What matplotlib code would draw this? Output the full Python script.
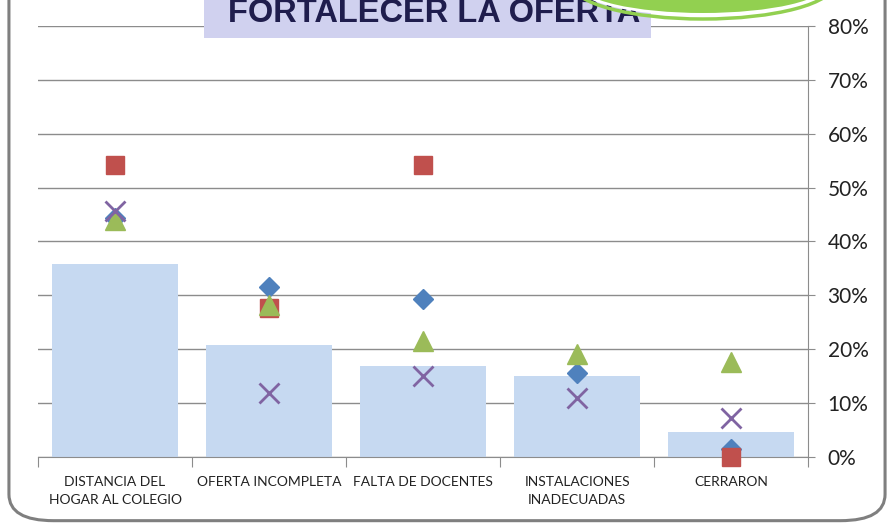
import numpy as np
import matplotlib.pyplot as plt
from matplotlib.patches import FancyBboxPatch, Rectangle, Ellipse

# Datos
categorias = ["DISTANCIA DEL\nHOGAR AL COLEGIO", "OFERTA INCOMPLETA", "FALTA DE DOCENTES",
              "INSTALACIONES\nINADECUADAS", "CERRARON"]
barras = [35.8, 20.7, 16.8, 15.1, 4.7]
serie_rombo = [44.3, 31.6, 29.3, 15.6, 1.4]
serie_cuadro = [54.2, 27.6, 54.2, np.nan, 0.0]
serie_triangulo = [44.0, 28.2, 21.5, 19.2, 17.6]
serie_x = [45.6, 11.9, 15.1, 11.0, 7.2]
ticks_y = [0, 10, 20, 30, 40, 50, 60, 70, 80]

plt.rcParams['font.family'] = ['Lato', 'DejaVu Sans']
fig = plt.figure(figsize=(8.94, 5.27), dpi=100)

# Marco redondeado
marco = FancyBboxPatch((0.010, 0.012), 0.980, 1.05, boxstyle="round,pad=0,rounding_size=0.05",
                       transform=fig.transFigure, facecolor="white", edgecolor="#7f7f7f",
                       linewidth=2.2, zorder=0)
fig.patches.append(marco)

ax = fig.add_axes([0.0425, 0.1328, 0.8615, 0.8179])
ax.set_zorder(2)
ax.patch.set_alpha(0)
x = np.arange(len(categorias))

ax.bar(x, barras, width=0.82, color="#C6D9F1", zorder=2)
ax.plot(x, serie_rombo, linestyle="none", marker="D", markersize=10.5, color="#4F81BD",
        zorder=3, clip_on=False)
ax.plot(x, serie_cuadro, linestyle="none", marker="s", markersize=13, color="#C0504D",
        zorder=4, clip_on=False)
ax.plot(x, serie_triangulo, linestyle="none", marker="^", markersize=15, color="#9BBB59",
        zorder=5, clip_on=False)
ax.plot(x, serie_x, linestyle="none", marker="x", markersize=14, markeredgewidth=2,
        color="#8064A2", zorder=6, clip_on=False)

ax.set_xlim(-0.5, len(categorias) - 0.5)
ax.set_ylim(0, 80)
ax.yaxis.tick_right()
ax.set_yticks(ticks_y)
ax.set_yticklabels([f"{t}%" for t in ticks_y], fontsize=15, color="#222222")
ax.yaxis.grid(True, color="#8c8c8c", linewidth=1.0, zorder=1)
ax.set_axisbelow(True)
ax.tick_params(axis="y", length=5, color="#8c8c8c", pad=9)

ax.set_xticks(np.arange(-0.5, len(categorias)), minor=False)
ax.set_xticklabels([])
ax.set_xticks(x, minor=True)
ax.set_xticklabels(categorias, minor=True, fontsize=10, color="#222222", linespacing=1.55)
ax.tick_params(axis="x", which="major", length=7, color="#8c8c8c")
ax.tick_params(axis="x", which="minor", length=0, pad=14)

for lado in ["left", "top"]:
    ax.spines[lado].set_visible(False)
ax.spines["right"].set_color("#8c8c8c")
ax.spines["bottom"].set_color("#8c8c8c")

# Titulo en recuadro lila
fig.patches.append(Rectangle((204 / 894, 1 - 38 / 527), 447 / 894, 38 / 527,
                             transform=fig.transFigure, facecolor="#D0D1EF", edgecolor="none", zorder=5))
fig.text(434 / 894, 1 - 22 / 527, "FORTALECER LA OFERTA", ha="center", va="baseline",
         fontsize=23.5, fontweight="bold", color="#1F1D4D",
         family=["Liberation Sans", "DejaVu Sans"], zorder=6)

# Elipse verde arriba a la derecha
for w, h, fc, ec, lw in [(262, 70, "none", "#92D050", 2.5), (256, 64, "white", "none", 0),
                         (248, 58, "#92D050", "none", 0)]:
    fig.patches.append(Ellipse((703 / 894, 1 + 16 / 527), w / 894, h / 527, transform=fig.transFigure,
                               facecolor=fc, edgecolor=ec, linewidth=lw, zorder=7))

fig.savefig("out.png", dpi=100)
